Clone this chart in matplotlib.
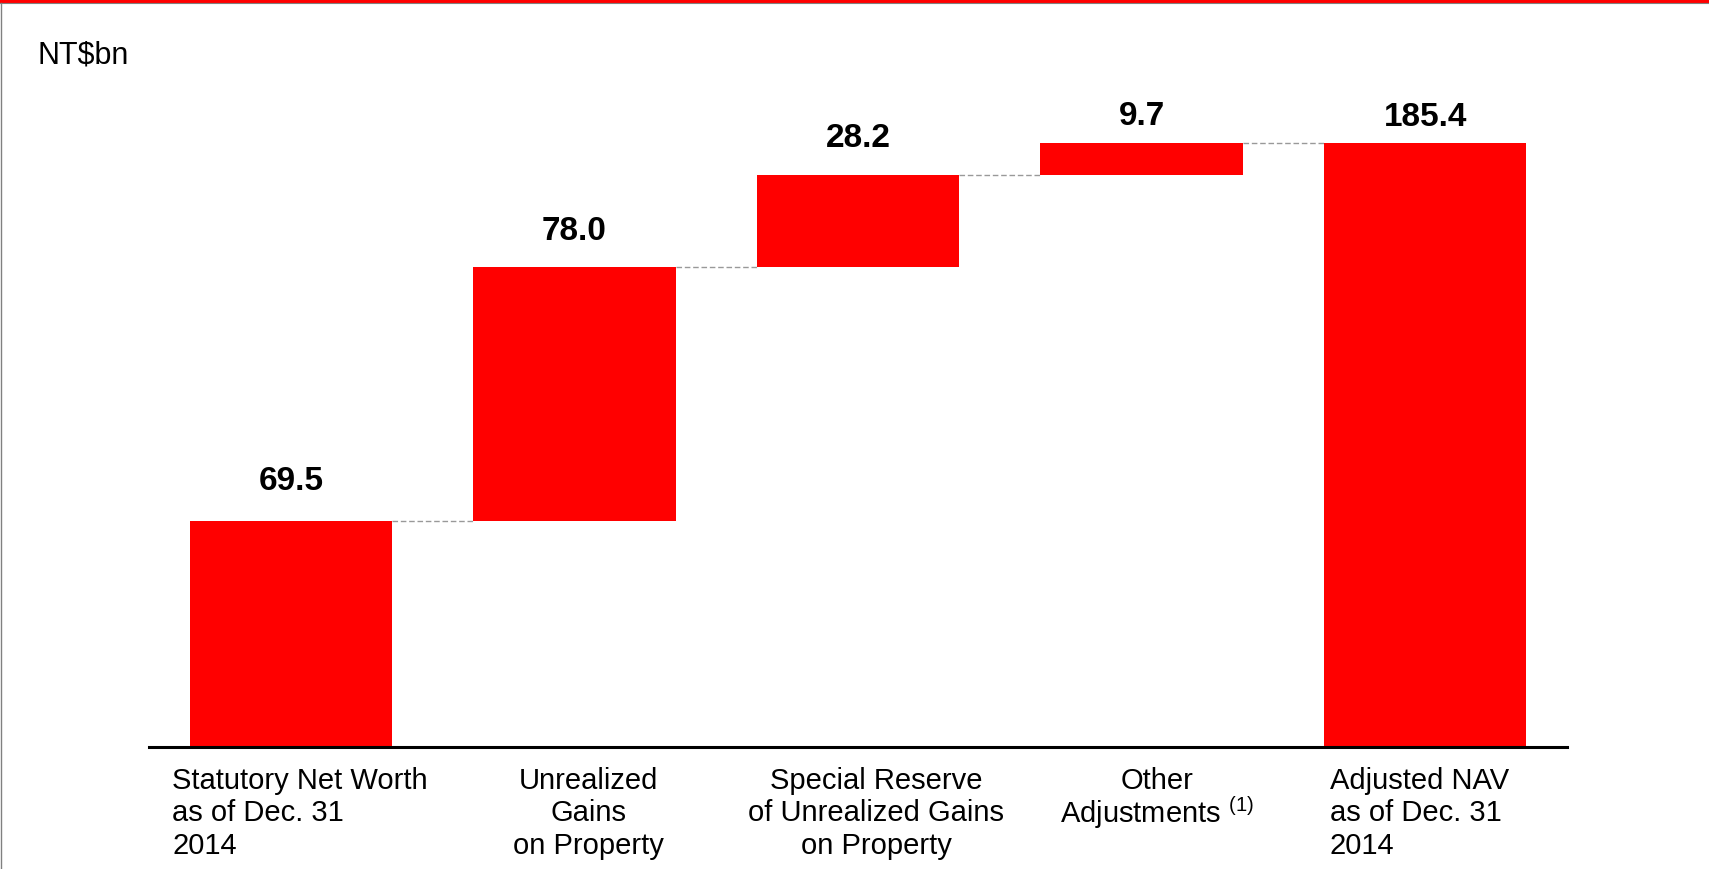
import numpy as np
import matplotlib
matplotlib.use("Agg")
from matplotlib import pyplot as plt
from matplotlib.patches import Rectangle
from matplotlib.lines import Line2D

plt.rcParams['font.family'] = 'Liberation Sans'
plt.rcParams['mathtext.fontset'] = 'custom'
plt.rcParams['mathtext.rm'] = 'Liberation Sans'
plt.rcParams['mathtext.it'] = 'Liberation Sans:italic'
plt.rcParams['mathtext.bf'] = 'Liberation Sans:bold'

# NAV bridge, NT$bn
categories = ['Statutory Net Worth\nas of Dec. 31\n2014',
              'Unrealized\nGains\non Property',
              'Special Reserve\nof Unrealized Gains\non Property',
              'Other\nAdjustments $^{\\mathrm{(1)}}$',
              'Adjusted NAV\nas of Dec. 31\n2014']
values = [69.5, 78.0, 28.2, 9.7, 185.4]
is_total = [True, False, False, False, True]

# label placement tweaks (points)
value_gap = [23, 19.5, 21, 13.5, 13]
cat_dx = [6.5, 10, 13, 11, -4.3]
cat_align = ['left', 'center', 'center', 'center', 'left']
cat_spacing = [1.2, 1.2, 1.2, 0.97, 1.2]

red = '#ff0000'

fig = plt.figure(figsize=(17.09, 8.70), dpi=100)
ax = fig.add_axes([0.0872, 0.1402, 0.8297, 0.7908])

x = np.arange(len(values))
bottoms = []
tops = []
run = 0.0
for v, tot in zip(values, is_total):
    if tot:
        bottoms.append(0.0)
        run = v
    else:
        bottoms.append(run)
        run += v
    tops.append(bottoms[-1] + v)

w = 0.713
ax.bar(x, values, bottom=bottoms, width=w, color=red, edgecolor='none', zorder=2)

# dashed connectors between consecutive bars
for i in range(len(values) - 1):
    ax.plot([x[i] + w / 2, x[i + 1] - w / 2], [tops[i], tops[i]],
            color='#999999', lw=1.0, ls=(0, (4, 2)), zorder=1)

for i, v in enumerate(values):
    ax.annotate(f'{v:.1f}', (x[i], tops[i]), xytext=(0, value_gap[i]),
                textcoords='offset points', ha='center', va='baseline',
                fontsize=24, fontweight='bold', color='black')
    ax.annotate(categories[i], (x[i], 0), xytext=(cat_dx[i], -13.5),
                textcoords='offset points', ha='center', va='top',
                multialignment=cat_align[i], linespacing=cat_spacing[i],
                fontsize=21, color='black', annotation_clip=False)

ax.set_xlim(-0.5, 4.5)
ax.set_ylim(0, 211.2)
for s in ['top', 'right', 'left']:
    ax.spines[s].set_visible(False)
ax.spines['bottom'].set_linewidth(2.2)
ax.spines['bottom'].set_color('black')
ax.set_xticks([])
ax.set_yticks([])

fig.text(38 / 1709, 1 - 64 / 870, 'NT\\$bn', fontsize=22, ha='left', va='baseline')

# slide frame: red band on top, thin grey rules
fig.add_artist(Rectangle((0, 1 - 3.8 / 870), 1, 3.8 / 870, transform=fig.transFigure,
                         facecolor=red, edgecolor='none'))
fig.add_artist(Line2D([0, 1], [1 - 4.4 / 870] * 2, transform=fig.transFigure,
                      color='#808080', lw=0.8))
fig.add_artist(Line2D([0.6 / 1709] * 2, [0, 1 - 3.8 / 870], transform=fig.transFigure,
                      color='#808080', lw=1.0))

fig.savefig('out.png', dpi=100)
